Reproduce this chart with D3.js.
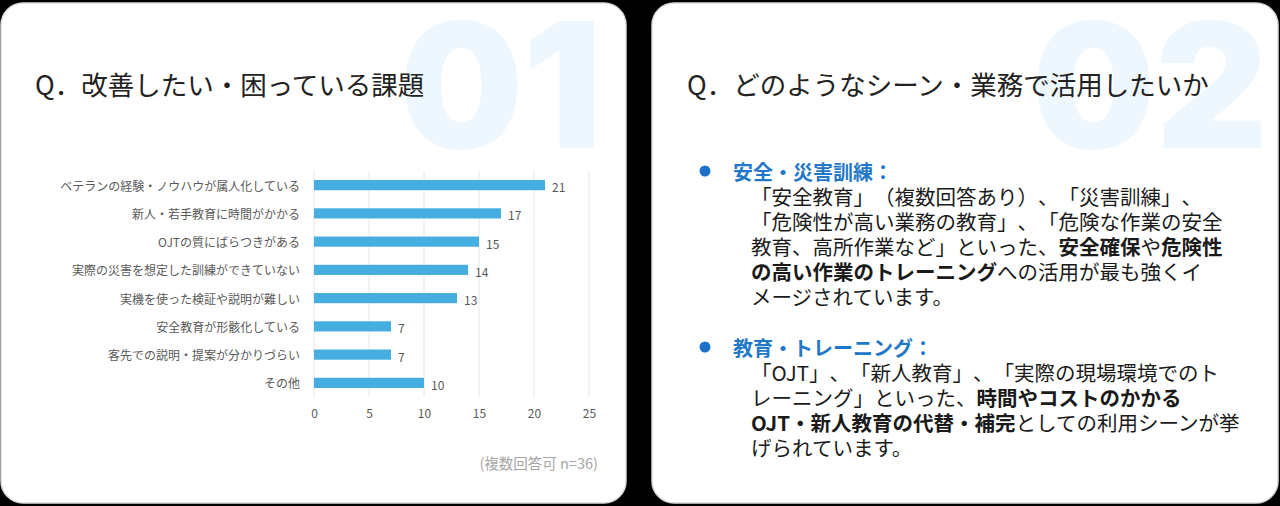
<!DOCTYPE html>
<html>
<head>
<meta charset="utf-8">
<script src="https://cdn.jsdelivr.net/npm/d3@7"></script>
<style>
  html, body { margin: 0; padding: 0; background: #000; }
  svg { display: block; }
  text { font-family: "Noto Sans CJK JP", "Noto Sans", sans-serif; text-spacing-trim: space-all; }
</style>
</head>
<body>
<div class="chartDiv"></div>
<script>
// bar chart data (left card)
var categories = [
	"ベテランの経験・ノウハウが属人化している",
	"新人・若手教育に時間がかかる",
	"OJTの質にばらつきがある",
	"実際の災害を想定した訓練ができていない",
	"実機を使った検証や説明が難しい",
	"安全教育が形骸化している",
	"客先での説明・提案が分かりづらい",
	"その他"
];
var counts = [21, 17, 15, 14, 13, 7, 7, 10];
var xTicks = [0, 5, 10, 15, 20, 25];

// text content (right card)
var heading1 = "安全・災害訓練：";
var lines1 = [
	[["「安全教育」（複数回答あり）、「災害訓練」、", false]],
	[["「危険性が高い業務の教育」、「危険な作業の安全", false]],
	[["教育、高所作業など」といった、", false], ["安全確保", true], ["や", false], ["危険性", true]],
	[["の高い作業のトレーニング", true], ["への活用が最も強くイ", false]],
	[["メージされています。", false]]
];
var heading2 = "教育・トレーニング：";
var lines2 = [
	[["「OJT」、「新人教育」、「実際の現場環境でのト", false]],
	[["レーニング」といった、", false], ["時間やコストのかかる", true]],
	[["OJT・新人教育の代替・補完", true], ["としての利用シーンが挙", false]],
	[["げられています。", false]]
];

var W = 1280, H = 506;

var svg = d3.select(".chartDiv").append("svg")
	.attr("width", W)
	.attr("height", H);

svg.append("rect").attr("width", W).attr("height", H).attr("fill", "#000");

// two white cards
var cards = [{x: 1, w: 625, numEnd: 601, num: "01", q: "Q．改善したい・困っている課題"},
	{x: 652, w: 626, numEnd: 616, num: "02", q: "Q．どのようなシーン・業務で活用したいか"}];

var card = svg.selectAll(".card")
	.data(cards)
	.enter().append("g")
	.attr("class", "card")
	.attr("transform", function (d) { return "translate(" + d.x + ",3)"; });

card.append("rect")
	.attr("width", function (d) { return d.w; })
	.attr("height", 500)
	.attr("rx", 22)
	.attr("fill", "#fff")
	.attr("stroke", "#d9d9d9")
	.attr("stroke-width", 1.5);

// big faint number
card.append("text")
	.attr("x", function (d) { return d.numEnd; })
	.attr("y", 145)
	.attr("text-anchor", "end")
	.style("font-family", "Inter, Roboto, sans-serif")
	.style("font-weight", 900)
	.style("font-size", "174px")
	.style("fill", "#edf7fd")
	.text(function (d) { return d.num; });

card.append("text")
	.attr("x", function (d, i) { return i == 0 ? 34 : 35; })
	.attr("y", 92)
	.style("font-size", "26.5px")
	.style("fill", "#222")
	.text(function (d) { return d.q; });

// ---- bar chart ----
var xScale = d3.scaleLinear().domain([0, 25]).range([314, 589]);
var yScale = d3.scaleBand().domain(categories).range([171, 397]).paddingInner(0.64).paddingOuter(0.32);

var chart = svg.append("g");

chart.selectAll(".grid")
	.data(xTicks)
	.enter().append("line")
	.attr("class", "grid")
	.attr("x1", function (d) { return xScale(d); })
	.attr("x2", function (d) { return xScale(d); })
	.attr("y1", 171)
	.attr("y2", 397)
	.attr("stroke", "#e6e6e6")
	.attr("stroke-width", 1);

chart.selectAll(".bar")
	.data(counts)
	.enter().append("rect")
	.attr("class", "bar")
	.attr("x", xScale(0))
	.attr("y", function (d, i) { return yScale(categories[i]); })
	.attr("width", function (d) { return xScale(d) - xScale(0); })
	.attr("height", yScale.bandwidth())
	.attr("fill", "#45ade0");

chart.selectAll(".val")
	.data(counts)
	.enter().append("text")
	.attr("class", "val")
	.attr("x", function (d) { return xScale(d) + 7; })
	.attr("y", function (d, i) { return yScale(categories[i]) + yScale.bandwidth() / 2 + 1.5; })
	.attr("dominant-baseline", "central")
	.style("font-size", "12px")
	.style("fill", "#595959")
	.text(String);

chart.selectAll(".cat")
	.data(categories)
	.enter().append("text")
	.attr("class", "cat")
	.attr("x", xScale(0) - 14)
	.attr("y", function (d) { return yScale(d) + yScale.bandwidth() / 2; })
	.attr("text-anchor", "end")
	.attr("dominant-baseline", "central")
	.style("font-size", "12px")
	.style("fill", "#595959")
	.text(String);

var axis = chart.append("g")
	.attr("transform", "translate(0,397)")
	.call(d3.axisBottom(xScale).tickValues(xTicks).tickSize(0).tickPadding(12));
axis.select(".domain").remove();
axis.selectAll("text")
	.style("font-family", "'Noto Sans CJK JP', 'Noto Sans', sans-serif")
	.style("font-size", "12px")
	.style("fill", "#595959");

chart.append("text")
	.attr("x", 598)
	.attr("y", 462)
	.attr("text-anchor", "end")
	.attr("dominant-baseline", "central")
	.style("font-size", "14.5px")
	.style("fill", "#a6a6a6")
	.text("(複数回答可 n=36)");

// ---- right card text ----
var blocks = [{head: heading1, lines: lines1, y: 171}, {head: heading2, lines: lines2, y: 347}];
var lineStep = 25.2;

blocks.forEach(function (b) {
	svg.append("circle")
		.attr("cx", 705)
		.attr("cy", b.y)
		.attr("r", 5.5)
		.attr("fill", "#1a73c8");

	svg.append("text")
		.attr("x", 733)
		.attr("y", b.y)
		.attr("dominant-baseline", "central")
		.style("font-size", "20px")
		.style("font-weight", "bold")
		.style("fill", "#1f78c8")
		.text(b.head);

	b.lines.forEach(function (segs, i) {
		var t = svg.append("text")
			.attr("x", 751)
			.attr("y", b.y + 24.5 + i * lineStep)
			.attr("dominant-baseline", "central")
			.style("font-size", "20.5px")
			.style("fill", "#1a1a1a");
		segs.forEach(function (s) {
			t.append("tspan")
				.style("font-weight", s[1] ? "bold" : "normal")
				.text(s[0]);
		});
	});
});
</script>
</body>
</html>
